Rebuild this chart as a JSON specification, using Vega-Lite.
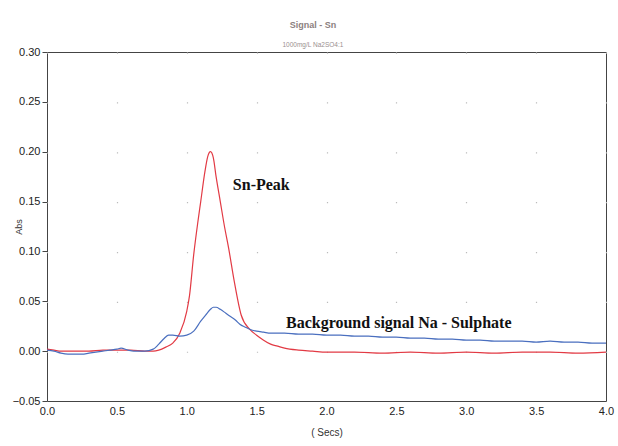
{
  "$schema": "https://vega.github.io/schema/vega-lite/v6.json",
  "width": 559,
  "height": 349,
  "autosize": {"type": "none"},
  "padding": {"left": 47, "top": 52, "right": 12, "bottom": 45},
  "background": "white",
  "title": {
    "text": "Signal - Sn",
    "subtitle": "1000mg/L Na2SO4:1",
    "anchor": "middle",
    "frame": "bounds",
    "offset": -2,
    "font": "Liberation Sans",
    "fontSize": 9,
    "fontWeight": "bold",
    "color": "#8c7f80",
    "subtitleFont": "Liberation Sans",
    "subtitleFontSize": 6.5,
    "subtitleColor": "#9a9090",
    "subtitlePadding": 12
  },
  "config": {
    "view": {"stroke": "#444", "strokeWidth": 1},
    "axis": {
      "labelFont": "Liberation Sans",
      "titleFont": "Liberation Sans",
      "labelColor": "#222",
      "titleColor": "#333",
      "domain": false
    }
  },
  "datasets": {
    "curves": [
      {"t": 0.0, "abs": 0.002, "series": "Sn"},
      {"t": 0.05, "abs": 0.001, "series": "Sn"},
      {"t": 0.1, "abs": 0.0, "series": "Sn"},
      {"t": 0.2, "abs": 0.0, "series": "Sn"},
      {"t": 0.3, "abs": 0.0, "series": "Sn"},
      {"t": 0.4, "abs": 0.001, "series": "Sn"},
      {"t": 0.5, "abs": 0.001, "series": "Sn"},
      {"t": 0.6, "abs": 0.001, "series": "Sn"},
      {"t": 0.7, "abs": 0.0, "series": "Sn"},
      {"t": 0.76, "abs": 0.0, "series": "Sn"},
      {"t": 0.8, "abs": 0.001, "series": "Sn"},
      {"t": 0.85, "abs": 0.004, "series": "Sn"},
      {"t": 0.9, "abs": 0.008, "series": "Sn"},
      {"t": 0.95, "abs": 0.018, "series": "Sn"},
      {"t": 1.0, "abs": 0.04, "series": "Sn"},
      {"t": 1.02, "abs": 0.056, "series": "Sn"},
      {"t": 1.05, "abs": 0.097, "series": "Sn"},
      {"t": 1.08, "abs": 0.13, "series": "Sn"},
      {"t": 1.1, "abs": 0.15, "series": "Sn"},
      {"t": 1.13, "abs": 0.18, "series": "Sn"},
      {"t": 1.15, "abs": 0.195, "series": "Sn"},
      {"t": 1.17, "abs": 0.2, "series": "Sn"},
      {"t": 1.19, "abs": 0.194, "series": "Sn"},
      {"t": 1.21, "abs": 0.175, "series": "Sn"},
      {"t": 1.24, "abs": 0.15, "series": "Sn"},
      {"t": 1.27, "abs": 0.125, "series": "Sn"},
      {"t": 1.3, "abs": 0.103, "series": "Sn"},
      {"t": 1.34, "abs": 0.07, "series": "Sn"},
      {"t": 1.39, "abs": 0.036, "series": "Sn"},
      {"t": 1.45, "abs": 0.022, "series": "Sn"},
      {"t": 1.5, "abs": 0.016, "series": "Sn"},
      {"t": 1.55, "abs": 0.011, "series": "Sn"},
      {"t": 1.6, "abs": 0.007, "series": "Sn"},
      {"t": 1.65, "abs": 0.005, "series": "Sn"},
      {"t": 1.7, "abs": 0.003, "series": "Sn"},
      {"t": 1.8, "abs": 0.001, "series": "Sn"},
      {"t": 1.9, "abs": 0.0, "series": "Sn"},
      {"t": 2.0, "abs": -0.001, "series": "Sn"},
      {"t": 2.2, "abs": -0.001, "series": "Sn"},
      {"t": 2.4, "abs": -0.002, "series": "Sn"},
      {"t": 2.6, "abs": -0.001, "series": "Sn"},
      {"t": 2.8, "abs": -0.002, "series": "Sn"},
      {"t": 3.0, "abs": -0.001, "series": "Sn"},
      {"t": 3.2, "abs": -0.002, "series": "Sn"},
      {"t": 3.4, "abs": -0.001, "series": "Sn"},
      {"t": 3.6, "abs": -0.001, "series": "Sn"},
      {"t": 3.8, "abs": -0.002, "series": "Sn"},
      {"t": 4.0, "abs": -0.001, "series": "Sn"},
      {"t": 0.0, "abs": 0.001, "series": "Background"},
      {"t": 0.05, "abs": 0.0, "series": "Background"},
      {"t": 0.1, "abs": -0.002, "series": "Background"},
      {"t": 0.15, "abs": -0.003, "series": "Background"},
      {"t": 0.2, "abs": -0.003, "series": "Background"},
      {"t": 0.25, "abs": -0.003, "series": "Background"},
      {"t": 0.3, "abs": -0.002, "series": "Background"},
      {"t": 0.35, "abs": -0.001, "series": "Background"},
      {"t": 0.4, "abs": 0.0, "series": "Background"},
      {"t": 0.45, "abs": 0.001, "series": "Background"},
      {"t": 0.5, "abs": 0.002, "series": "Background"},
      {"t": 0.53, "abs": 0.003, "series": "Background"},
      {"t": 0.58, "abs": 0.001, "series": "Background"},
      {"t": 0.62, "abs": 0.0, "series": "Background"},
      {"t": 0.7, "abs": 0.0, "series": "Background"},
      {"t": 0.76, "abs": 0.002, "series": "Background"},
      {"t": 0.8, "abs": 0.007, "series": "Background"},
      {"t": 0.84, "abs": 0.013, "series": "Background"},
      {"t": 0.87, "abs": 0.016, "series": "Background"},
      {"t": 0.9, "abs": 0.016, "series": "Background"},
      {"t": 0.95, "abs": 0.015, "series": "Background"},
      {"t": 1.0, "abs": 0.016, "series": "Background"},
      {"t": 1.05, "abs": 0.02, "series": "Background"},
      {"t": 1.1, "abs": 0.03, "series": "Background"},
      {"t": 1.14, "abs": 0.037, "series": "Background"},
      {"t": 1.17, "abs": 0.042, "series": "Background"},
      {"t": 1.19, "abs": 0.044, "series": "Background"},
      {"t": 1.21, "abs": 0.044, "series": "Background"},
      {"t": 1.24, "abs": 0.042, "series": "Background"},
      {"t": 1.28, "abs": 0.038, "series": "Background"},
      {"t": 1.31, "abs": 0.035, "series": "Background"},
      {"t": 1.35, "abs": 0.031, "series": "Background"},
      {"t": 1.38, "abs": 0.027, "series": "Background"},
      {"t": 1.42, "abs": 0.024, "series": "Background"},
      {"t": 1.45, "abs": 0.022, "series": "Background"},
      {"t": 1.5, "abs": 0.02, "series": "Background"},
      {"t": 1.55, "abs": 0.019, "series": "Background"},
      {"t": 1.6, "abs": 0.018, "series": "Background"},
      {"t": 1.7, "abs": 0.018, "series": "Background"},
      {"t": 1.8, "abs": 0.017, "series": "Background"},
      {"t": 1.9, "abs": 0.017, "series": "Background"},
      {"t": 2.0, "abs": 0.016, "series": "Background"},
      {"t": 2.1, "abs": 0.016, "series": "Background"},
      {"t": 2.2, "abs": 0.015, "series": "Background"},
      {"t": 2.3, "abs": 0.015, "series": "Background"},
      {"t": 2.4, "abs": 0.014, "series": "Background"},
      {"t": 2.5, "abs": 0.014, "series": "Background"},
      {"t": 2.6, "abs": 0.013, "series": "Background"},
      {"t": 2.7, "abs": 0.013, "series": "Background"},
      {"t": 2.8, "abs": 0.012, "series": "Background"},
      {"t": 2.9, "abs": 0.012, "series": "Background"},
      {"t": 3.0, "abs": 0.011, "series": "Background"},
      {"t": 3.1, "abs": 0.011, "series": "Background"},
      {"t": 3.2, "abs": 0.01, "series": "Background"},
      {"t": 3.3, "abs": 0.01, "series": "Background"},
      {"t": 3.4, "abs": 0.01, "series": "Background"},
      {"t": 3.5, "abs": 0.009, "series": "Background"},
      {"t": 3.6, "abs": 0.01, "series": "Background"},
      {"t": 3.7, "abs": 0.009, "series": "Background"},
      {"t": 3.8, "abs": 0.009, "series": "Background"},
      {"t": 3.9, "abs": 0.008, "series": "Background"},
      {"t": 4.0, "abs": 0.008, "series": "Background"}
    ],
    "notes": [
      {"t": 1.33, "abs": 0.167, "label": "Sn-Peak"},
      {"t": 1.71, "abs": 0.028, "label": "Background signal Na - Sulphate"}
    ]
  },
  "layer": [
    {
      "data": {"name": "curves"},
      "mark": {"type": "line", "strokeWidth": 1.2, "interpolate": "monotone"},
      "encoding": {
        "x": {
          "field": "t",
          "type": "quantitative",
          "scale": {"domain": [0, 4], "nice": false, "zero": false},
          "axis": {
            "title": "( Secs)",
            "titleFontSize": 10,
            "titleFontWeight": "normal",
            "titlePadding": 11,
            "values": [0, 0.5, 1, 1.5, 2, 2.5, 3, 3.5, 4],
            "format": ".1f",
            "labelFontSize": 11,
            "labelPadding": 4,
            "labelFlush": false,
            "ticks": false,
            "grid": true,
            "gridColor": "#bbbbbb",
            "gridWidth": 1.2,
            "gridDash": [1.2, 48.66]
          }
        },
        "y": {
          "field": "abs",
          "type": "quantitative",
          "scale": {"domain": [-0.05, 0.3], "nice": false, "zero": false},
          "axis": {
            "title": "Abs",
            "titleFontSize": 9,
            "titleFontWeight": "normal",
            "titleX": -29,
            "titleBaseline": "middle",
            "values": [-0.05, 0, 0.05, 0.1, 0.15, 0.2, 0.25, 0.3],
            "format": ".2f",
            "labelFontSize": 11,
            "labelPadding": 2,
            "labelFlush": false,
            "ticks": true,
            "tickSize": 5,
            "tickColor": "#444",
            "grid": false
          }
        },
        "color": {
          "field": "series",
          "type": "nominal",
          "scale": {"domain": ["Background", "Sn"], "range": ["#4a6fbf", "#e23a44"]},
          "legend": null
        },
        "order": {"field": "t", "type": "quantitative"}
      }
    },
    {
      "mark": {"type": "rule", "color": "black", "strokeWidth": 1.3},
      "encoding": {"y": {"datum": 0}}
    },
    {
      "data": {"name": "notes"},
      "mark": {
        "type": "text",
        "align": "left",
        "baseline": "middle",
        "font": "Liberation Serif",
        "fontWeight": "bold",
        "fontSize": 16,
        "color": "#111"
      },
      "encoding": {
        "x": {"field": "t", "type": "quantitative"},
        "y": {"field": "abs", "type": "quantitative"},
        "text": {"field": "label"}
      }
    }
  ]
}
